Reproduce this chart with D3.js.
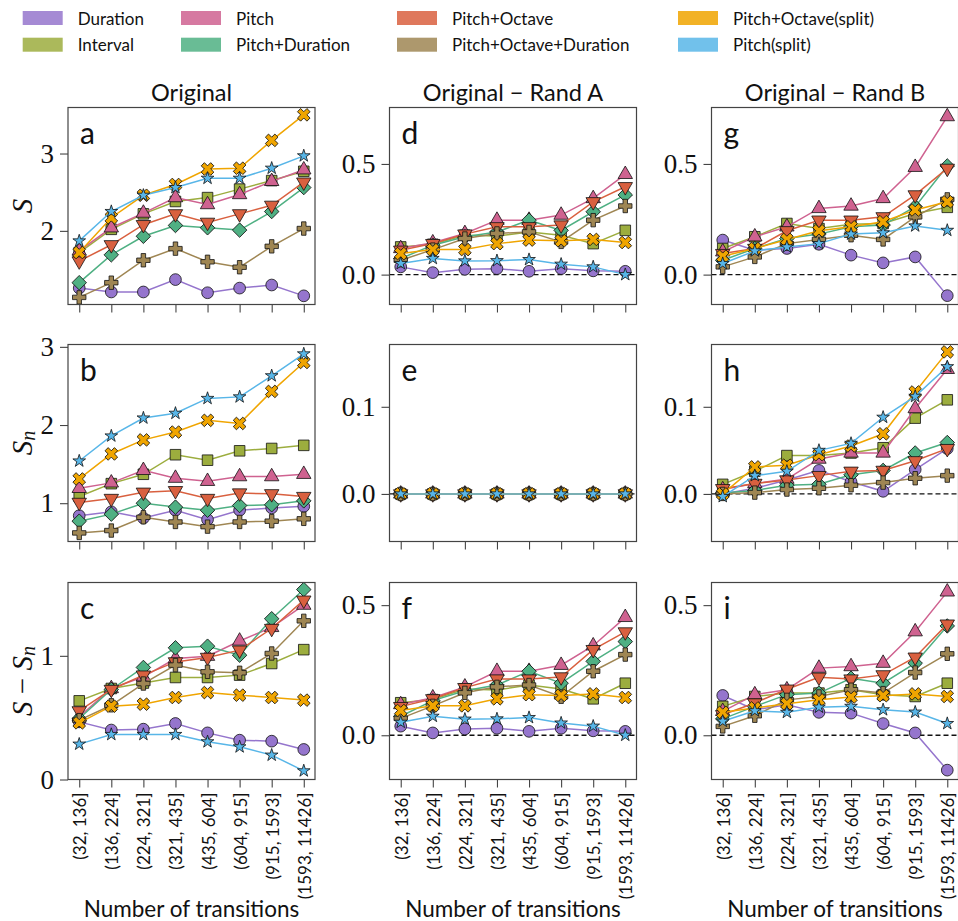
<!DOCTYPE html>
<html>
<head>
<meta charset="utf-8">
<script src="https://cdn.jsdelivr.net/npm/d3@7"></script>
<style>
  body { margin: 0; background: #fff; }
  text { fill: #111; }
</style>
</head>
<body>
<svg id="chart" width="958" height="921"></svg>
<script>
const bins = ["(32, 136]", "(136, 224]", "(224, 321]", "(321, 435]", "(435, 604]", "(604, 915]", "(915, 1593]", "(1593, 11426]"];
const seriesNames = ["Duration", "Interval", "Pitch", "Pitch+Duration", "Pitch+Octave", "Pitch+Octave+Duration", "Pitch+Octave(split)", "Pitch(split)"];
const seriesColors = ["#9575cd", "#9cad3e", "#cf6290", "#4fb083", "#d9603f", "#9f8653", "#f0a500", "#58b6e8"];
const seriesShapes = ["circle", "square", "triUp", "diamond", "triDown", "plus", "x", "star"];
const colTitles = ["Original", "Original \u2212 Rand A", "Original \u2212 Rand B"];

// S, original
const dataA = [
  [1.26, 1.21, 1.21, 1.37, 1.20, 1.26, 1.30, 1.16],
  [1.72, 2.02, 2.22, 2.38, 2.43, 2.54, 2.65, 2.77],
  [1.74, 2.04, 2.23, 2.43, 2.34, 2.47, 2.64, 2.79],
  [1.33, 1.69, 1.93, 2.07, 2.04, 2.01, 2.25, 2.56],
  [1.61, 1.82, 2.08, 2.22, 2.11, 2.22, 2.33, 2.63],
  [1.14, 1.33, 1.62, 1.77, 1.60, 1.53, 1.80, 2.03],
  [1.72, 2.17, 2.46, 2.60, 2.80, 2.81, 3.17, 3.50],
  [1.87, 2.25, 2.46, 2.56, 2.68, 2.68, 2.81, 2.97]
];
// S_n, original
const dataB = [
  [0.84, 0.89, 0.81, 0.91, 0.79, 0.91, 0.94, 0.96],
  [1.085, 1.25, 1.37, 1.62, 1.55, 1.67, 1.70, 1.74],
  [1.19, 1.26, 1.42, 1.32, 1.28, 1.34, 1.34, 1.37],
  [0.77, 0.86, 1.00, 0.95, 0.91, 0.97, 0.98, 1.03],
  [1.01, 1.06, 1.14, 1.16, 1.06, 1.13, 1.12, 1.085],
  [0.62, 0.65, 0.82, 0.76, 0.70, 0.76, 0.77, 0.80],
  [1.31, 1.63, 1.81, 1.91, 2.06, 2.02, 2.43, 2.80],
  [1.54, 1.86, 2.09, 2.15, 2.34, 2.36, 2.63, 2.91]
];
// S - S_n, original
const dataC = [
  [0.466, 0.40, 0.407, 0.453, 0.377, 0.318, 0.31, 0.243],
  [0.636, 0.736, 0.78, 0.825, 0.825, 0.844, 0.938, 1.05],
  [0.507, 0.736, 0.83, 0.978, 0.997, 1.12, 1.23, 1.41],
  [0.493, 0.728, 0.906, 1.065, 1.078, 1.005, 1.30, 1.536],
  [0.555, 0.728, 0.844, 0.951, 0.987, 1.046, 1.221, 1.45],
  [0.48, 0.60, 0.776, 0.925, 0.871, 0.863, 1.019, 1.283],
  [0.458, 0.593, 0.609, 0.663, 0.703, 0.682, 0.663, 0.642],
  [0.286, 0.364, 0.364, 0.364, 0.305, 0.264, 0.197, 0.07]
];
// S, original - rand A
const dataD = [
  [0.035, 0.009, 0.024, 0.027, 0.015, 0.027, 0.017, 0.015],
  [0.125, 0.137, 0.178, 0.174, 0.193, 0.178, 0.14, 0.20],
  [0.118, 0.144, 0.186, 0.246, 0.246, 0.269, 0.344, 0.453],
  [0.073, 0.133, 0.171, 0.193, 0.246, 0.20, 0.284, 0.36],
  [0.11, 0.14, 0.183, 0.216, 0.216, 0.224, 0.329, 0.397],
  [0.065, 0.113, 0.163, 0.186, 0.193, 0.148, 0.246, 0.31],
  [0.095, 0.113, 0.113, 0.14, 0.156, 0.153, 0.159, 0.145],
  [0.05, 0.073, 0.062, 0.063, 0.068, 0.047, 0.035, 0.0]
];
// S_n, original - rand A
const dataE = [
  [0, 0, 0, 0, 0, 0, 0, 0],
  [0, 0, 0, 0, 0, 0, 0, 0],
  [0, 0, 0, 0, 0, 0, 0, 0],
  [0, 0, 0, 0, 0, 0, 0, 0],
  [0, 0, 0, 0, 0, 0, 0, 0],
  [0, 0, 0, 0, 0, 0, 0, 0],
  [0, 0, 0, 0, 0, 0, 0, 0],
  [0, 0, 0, 0, 0, 0, 0, 0]
];
// S - S_n, original - rand A
const dataF = [
  [0.035, 0.009, 0.024, 0.027, 0.015, 0.027, 0.017, 0.015],
  [0.125, 0.137, 0.178, 0.174, 0.193, 0.178, 0.14, 0.20],
  [0.118, 0.144, 0.186, 0.246, 0.246, 0.269, 0.344, 0.453],
  [0.073, 0.133, 0.171, 0.193, 0.246, 0.20, 0.284, 0.36],
  [0.11, 0.14, 0.183, 0.216, 0.216, 0.224, 0.329, 0.397],
  [0.065, 0.113, 0.163, 0.186, 0.193, 0.148, 0.246, 0.31],
  [0.095, 0.113, 0.113, 0.14, 0.156, 0.153, 0.159, 0.145],
  [0.05, 0.073, 0.062, 0.063, 0.068, 0.047, 0.035, 0.0]
];
// S, original - rand B
const dataG = [
  [0.156, 0.11, 0.118, 0.137, 0.088, 0.053, 0.08, -0.095],
  [0.118, 0.171, 0.231, 0.208, 0.228, 0.231, 0.276, 0.304],
  [0.103, 0.171, 0.216, 0.299, 0.31, 0.344, 0.485, 0.714],
  [0.065, 0.118, 0.163, 0.183, 0.216, 0.224, 0.307, 0.491],
  [0.095, 0.118, 0.198, 0.246, 0.246, 0.261, 0.36, 0.48],
  [0.035, 0.08, 0.14, 0.159, 0.178, 0.159, 0.261, 0.34],
  [0.083, 0.118, 0.159, 0.198, 0.216, 0.239, 0.292, 0.329],
  [0.05, 0.107, 0.125, 0.14, 0.183, 0.189, 0.22, 0.20]
];
// S_n, original - rand B
const dataH = [
  [0.0, 0.0065, 0.016, 0.027, 0.014, 0.003, 0.028, 0.052],
  [0.011, 0.026, 0.044, 0.044, 0.047, 0.053, 0.087, 0.108],
  [0.005, 0.012, 0.017, 0.04, 0.047, 0.047, 0.098, 0.143],
  [0.001, 0.004, 0.01, 0.011, 0.022, 0.027, 0.047, 0.059],
  [0.006, 0.012, 0.016, 0.021, 0.026, 0.027, 0.038, 0.052],
  [0.0, 0.0015, 0.005, 0.0065, 0.01, 0.013, 0.018, 0.021],
  [0.0, 0.031, 0.033, 0.045, 0.055, 0.069, 0.117, 0.163],
  [-0.003, 0.021, 0.026, 0.05, 0.058, 0.088, 0.112, 0.146]
];
// S - S_n, original - rand B
const dataI = [
  [0.153, 0.098, 0.117, 0.088, 0.085, 0.045, 0.009, -0.134],
  [0.111, 0.149, 0.162, 0.162, 0.175, 0.156, 0.149, 0.20],
  [0.092, 0.156, 0.175, 0.258, 0.264, 0.277, 0.398, 0.551],
  [0.063, 0.111, 0.156, 0.162, 0.219, 0.20, 0.277, 0.42],
  [0.079, 0.124, 0.177, 0.223, 0.216, 0.232, 0.30, 0.427],
  [0.034, 0.075, 0.136, 0.149, 0.175, 0.162, 0.241, 0.313],
  [0.088, 0.105, 0.121, 0.136, 0.147, 0.152, 0.159, 0.149],
  [0.054, 0.094, 0.088, 0.108, 0.111, 0.098, 0.089, 0.045]
];

const colLeft = [68, 389.5, 711.5];
const rowTop = [107.5, 344.5, 582.5];
const panelW = 247, panelH = 197;

const panels = [
  { data: dataA, col: 0, row: 0, letter: "a", y: [1.048, 3.595], ticks: [2, 3], fmt: "d" },
  { data: dataB, col: 0, row: 1, letter: "b", y: [0.51, 3.03], ticks: [1, 2, 3], fmt: "d" },
  { data: dataC, col: 0, row: 2, letter: "c", y: [0, 1.593], ticks: [0, 1], fmt: "d" },
  { data: dataD, col: 1, row: 0, letter: "d", y: [-0.135, 0.755], ticks: [0, 0.5], fmt: ".1f", zero: true },
  { data: dataE, col: 1, row: 1, letter: "e", y: [-0.0546, 0.1715], ticks: [0, 0.1], fmt: ".1f", zero: true },
  { data: dataF, col: 1, row: 2, letter: "f", y: [-0.17, 0.587], ticks: [0, 0.5], fmt: ".1f", zero: true },
  { data: dataG, col: 2, row: 0, letter: "g", y: [-0.135, 0.755], ticks: [0, 0.5], fmt: ".1f", zero: true },
  { data: dataH, col: 2, row: 1, letter: "h", y: [-0.0546, 0.1715], ticks: [0, 0.1], fmt: ".1f", zero: true },
  { data: dataI, col: 2, row: 2, letter: "i", y: [-0.17, 0.587], ticks: [0, 0.5], fmt: ".1f", zero: true }
];

const svg = d3.select("#chart");
const sansFont = "Lato, 'Open Sans', sans-serif";
const serifFont = "'Liberation Serif', 'DejaVu Serif', serif";

function markerPath(shape) {
  switch (shape) {
    case "circle": return { d: d3.symbol(d3.symbolCircle, 108)(), rot: 0 };
    case "square": return { d: d3.symbol(d3.symbolSquare, 112)(), rot: 0 };
    case "triUp": return { d: d3.symbol(d3.symbolTriangle, 90)(), rot: 0 };
    case "triDown": return { d: d3.symbol(d3.symbolTriangle, 90)(), rot: 180 };
    case "diamond": return { d: d3.symbol(d3.symbolSquare, 105)(), rot: 45 };
    case "plus": return { d: d3.symbol(d3.symbolCross, 100)(), rot: 0 };
    case "x": return { d: d3.symbol(d3.symbolCross, 100)(), rot: 45 };
    case "star": return { d: d3.symbol(d3.symbolStar, 50)(), rot: 0 };
  }
}

// legend
const legendX = [22.7, 181, 397, 678];
const legendY = [11, 37.7];
seriesNames.forEach((name, i) => {
  const cx = legendX[Math.floor(i / 2)], cy = legendY[i % 2];
  svg.append("rect")
    .attr("x", cx).attr("y", cy)
    .attr("width", 40).attr("height", 14)
    .attr("fill", seriesColors[i])
    .attr("fill-opacity", 0.85);
  svg.append("text")
    .attr("x", cx + 55).attr("y", cy + 13.5)
    .attr("font-family", sansFont)
    .attr("font-size", 17)
    .text(name);
});

panels.forEach((p) => {
  const left = colLeft[p.col], top = rowTop[p.row];
  const x = d3.scaleLinear().domain([-0.35, 7.35]).range([left, left + panelW]);
  const y = d3.scaleLinear().domain(p.y).range([top + panelH, top]);
  const g = svg.append("g");

  // y axis
  const yAxis = d3.axisLeft(y).tickValues(p.ticks).tickSize(8).tickPadding(6)
    .tickFormat(d3.format(p.fmt));
  const ya = g.append("g").attr("transform", `translate(${left},0)`).call(yAxis);
  ya.select(".domain").remove();
  ya.selectAll("line").attr("stroke", "#444").attr("stroke-width", 1.1);
  ya.selectAll("text")
    .attr("font-family", serifFont)
    .attr("font-size", 27)
    .attr("fill", "#222");

  // x axis
  const xAxis = d3.axisBottom(x).tickValues(d3.range(bins.length)).tickSize(8)
    .tickFormat(p.row === 2 ? (i) => bins[i] : () => "");
  const xa = g.append("g").attr("transform", `translate(0,${top + panelH})`).call(xAxis);
  xa.select(".domain").remove();
  xa.selectAll("line").attr("stroke", "#444").attr("stroke-width", 1.1);
  xa.selectAll("text")
    .attr("font-family", sansFont)
    .attr("font-size", 17)
    .attr("fill", "#111")
    .attr("transform", "rotate(-90)")
    .attr("text-anchor", "end")
    .attr("dominant-baseline", "central")
    .attr("x", -13)
    .attr("y", 0)
    .attr("dy", null);

  // zero line
  if (p.zero) {
    g.append("line")
      .attr("x1", left).attr("x2", left + panelW)
      .attr("y1", y(0)).attr("y2", y(0))
      .attr("stroke", "#111").attr("stroke-width", 1.3)
      .attr("stroke-dasharray", "5,3");
  }

  // series
  const line = d3.line().x((d, i) => x(i)).y((d) => y(d));
  p.data.forEach((vals, s) => {
    const sg = g.append("g");
    sg.append("path")
      .attr("d", line(vals))
      .attr("fill", "none")
      .attr("stroke", seriesColors[s])
      .attr("stroke-width", 1.5);
    const m = markerPath(seriesShapes[s]);
    sg.selectAll("path.mk").data(vals).join("path")
      .attr("class", "mk")
      .attr("d", m.d)
      .attr("transform", (d, i) => `translate(${x(i)},${y(d)}) rotate(${m.rot})`)
      .attr("fill", seriesColors[s])
      .attr("stroke", "#111")
      .attr("stroke-width", 0.8);
  });

  // frame
  g.append("rect")
    .attr("x", left).attr("y", top)
    .attr("width", panelW).attr("height", panelH)
    .attr("fill", "none")
    .attr("stroke", "#444").attr("stroke-width", 1.2);

  // panel letter
  g.append("text")
    .attr("x", left + 12).attr("y", top + 36)
    .attr("font-family", sansFont)
    .attr("font-size", 30)
    .text(p.letter);
});

// column titles and x labels
colTitles.forEach((t, c) => {
  const cx = colLeft[c] + panelW / 2;
  svg.append("text")
    .attr("x", cx).attr("y", 100.5)
    .attr("text-anchor", "middle")
    .attr("font-family", sansFont)
    .attr("font-size", 23.5)
    .text(t);
  svg.append("text")
    .attr("x", cx).attr("y", 917)
    .attr("text-anchor", "middle")
    .attr("font-family", sansFont)
    .attr("font-size", 22.5)
    .text("Number of transitions");
});

// y labels
const yLabels = [
  [{ t: "S" }],
  [{ t: "S" }, { t: "n", sub: true }],
  [{ t: "S" }, { t: " \u2212 ", up: true }, { t: "S" }, { t: "n", sub: true }]
];
yLabels.forEach((parts, r) => {
  const cy = rowTop[r] + panelH / 2;
  const txt = svg.append("text")
    .attr("transform", `translate(22,${cy}) rotate(-90)`)
    .attr("text-anchor", "middle")
    .attr("dominant-baseline", "central")
    .attr("font-family", serifFont)
    .attr("font-size", 29);
  let shifted = false;
  parts.forEach((pt) => {
    const ts = txt.append("tspan").text(pt.t);
    if (pt.sub) {
      ts.attr("font-size", 20).attr("dy", 6).attr("font-style", "italic");
      shifted = true;
    } else {
      if (shifted) { ts.attr("dy", -6); shifted = false; }
      if (!pt.up) ts.attr("font-style", "italic");
    }
  });
});
</script>
</body>
</html>
